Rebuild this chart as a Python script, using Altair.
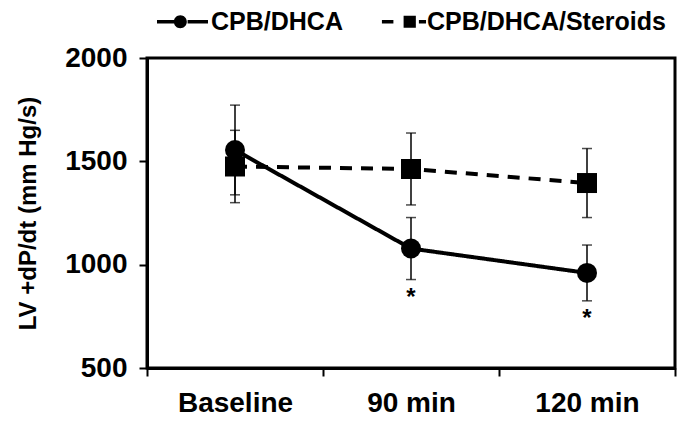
import altair as alt
import pandas as pd

categories = ["Baseline", "90 min", "120 min"]
series_names = ["CPB/DHCA", "CPB/DHCA/Steroids"]
cpb_mean = [1555, 1078, 960]
cpb_se = [217, 150, 135]
cpb_sig = ["", "*", "*"]
ster_mean = [1475, 1463, 1395]
ster_se = [175, 174, 167]
ster_sig = ["", "", ""]

rows = []
for i, c in enumerate(categories):
    rows.append({"time": c, "series": series_names[0], "mean": cpb_mean[i], "se": cpb_se[i], "sig": cpb_sig[i]})
for i, c in enumerate(categories):
    rows.append({"time": c, "series": series_names[1], "mean": ster_mean[i], "se": ster_se[i], "sig": ster_sig[i]})
df = pd.DataFrame(rows)

FONT = "Liberation Sans"

base = alt.Chart(df).transform_calculate(
    lo="datum.mean - datum.se", hi="datum.mean + datum.se"
)

x = alt.X(
    "time:N",
    sort=categories,
    scale=alt.Scale(paddingInner=0, paddingOuter=0),
    axis=alt.Axis(title=None, labelAngle=0, tickBand="extent", labelPadding=13, labelFontSize=28),
)
yscale = alt.Scale(domain=[500, 2000], nice=False, zero=False)
y = alt.Y(
    "mean:Q",
    scale=yscale,
    axis=alt.Axis(values=[500, 1000, 1500, 2000], format="d", title="LV +dP/dt  (mm Hg/s)",
                  titlePadding=24, labelPadding=12, grid=False, labelFontSize=28),
)

lines = base.mark_line(color="black", strokeWidth=4).encode(
    x=x,
    y=y,
    strokeDash=alt.StrokeDash(
        "series:N",
        scale=alt.Scale(domain=series_names, range=[[1, 0], [12, 9]]),
        legend=None,
    ),
    detail="series:N",
)

rules = base.mark_rule(color="black", strokeWidth=1.5).encode(
    x=x, y=alt.Y("lo:Q", scale=yscale), y2="hi:Q"
)
caps_lo = base.mark_tick(color="black", size=10, thickness=1.5, orient="horizontal").encode(
    x=x, y=alt.Y("lo:Q", scale=yscale)
)
caps_hi = base.mark_tick(color="black", size=10, thickness=1.5, orient="horizontal").encode(
    x=x, y=alt.Y("hi:Q", scale=yscale)
)

points = base.mark_point(filled=True, size=400, opacity=1, color="black").encode(
    x=x,
    y=y,
    shape=alt.Shape(
        "series:N",
        scale=alt.Scale(domain=series_names, range=["circle", "square"]),
        legend=None,
    ),
)

circle_path = (
    "M-1,-0.065 H-0.26 V0.065 H-1 Z "
    "M0.2,-0.065 H1 V0.065 H0.2 Z "
    "M-0.34,0 A0.255,0.255 0 1,1 0.17,0 A0.255,0.255 0 1,1 -0.34,0 Z"
)
square_path = (
    "M-0.65,-0.065 H-0.2 V0.065 H-0.65 Z "
    "M0.2,-0.24 H0.68 V0.24 H0.2 Z "
    "M0.8,-0.065 H1.08 V0.065 H0.8 Z"
)

legend_layer = base.mark_point(filled=True, opacity=0, color="black").encode(
    x=x,
    y=y,
    shape=alt.Shape(
        "series:N",
        scale=alt.Scale(domain=series_names, range=[circle_path, square_path]),
        legend=alt.Legend(
            title=None,
            orient="none",
            direction="horizontal",
            legendX=10,
            legendY=-62,
            symbolSize=2601,
            symbolOpacity=1,
            symbolFillColor="black",
            symbolStrokeWidth=0,
            labelFont=FONT,
            labelFontSize=25,
            labelFontWeight="bold",
            labelColor="black",
            labelOffset=3,
            columnPadding=30,
            labelLimit=400,
        ),
    ),
)

stars = base.transform_filter("datum.sig == '*'").mark_text(
    font=FONT, fontSize=24, fontWeight="bold", color="black", baseline="middle", dy=18
).encode(x=x, y=alt.Y("lo:Q", scale=yscale), text="sig:N")

chart = (
    alt.layer(rules, caps_lo, caps_hi, lines, points, legend_layer, stars)
    .resolve_scale(shape="independent")
    .properties(
        width=528,
        height=310,
        autosize=alt.AutoSizeParams(type="none"),
        padding={"left": 139, "top": 50, "right": 2, "bottom": 50},
        background="white",
    )
    .configure_view(stroke="black", strokeWidth=3)
    .configure_axis(
        labelFont=FONT,
        labelFontWeight="bold",
        labelColor="black",
        titleFont=FONT,
        titleFontSize=24,
        titleFontWeight="bold",
        titleColor="black",
        domainColor="black",
        domainWidth=3,
        tickColor="black",
        tickWidth=2,
        tickSize=8,
    )
)

chart.save("out.html", embed_options={"renderer": "svg", "actions": False})
